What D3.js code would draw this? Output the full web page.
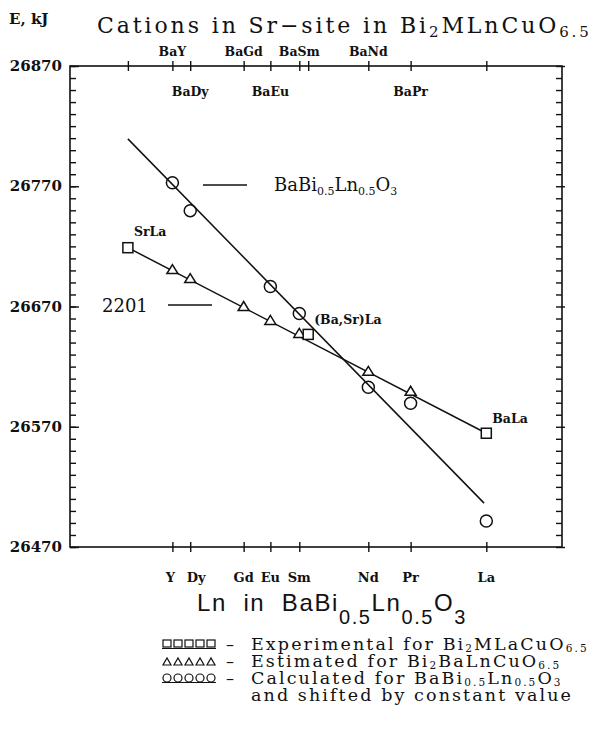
<!DOCTYPE html>
<html>
<head>
<meta charset="utf-8">
<script src="https://cdn.jsdelivr.net/npm/d3@7/dist/d3.min.js"></script>
<style>
   body { margin: 0; background: #fff; }
   svg { display: block; }
   text { fill: #111; }
</style>
</head>
<body>
<div id="chart"></div>
<script>
// Ln cations on the bottom axis (x = ionic radius)
const lnNames = ['Y', 'Dy', 'Gd', 'Eu', 'Sm', 'Nd', 'Pr', 'La'];
const lnRadius = [1.019, 1.027, 1.051, 1.063, 1.076, 1.107, 1.126, 1.160];

// M-site compositions on the top axis
const siteNames = ['SrLa', 'BaY', 'BaDy', 'BaGd', 'BaEu', 'BaSm', '(Ba,Sr)La', 'BaNd', 'BaPr', 'BaLa'];
const siteRadius = [0.999, 1.019, 1.027, 1.051, 1.063, 1.076, 1.080, 1.107, 1.126, 1.160];
const siteLabelsUpper = ['BaY', 'BaGd', 'BaSm', 'BaNd'];
const siteLabelsLower = ['BaDy', 'BaEu', 'BaPr'];

const yTicks = [26470, 26570, 26670, 26770, 26870];

// experimental, Bi2MLaCuO6.5 (squares)
const expSites = ['SrLa', '(Ba,Sr)La', 'BaLa'];
const expE = [26718.9, 26646.8, 26564.6];

// estimated, Bi2BaLnCuO6.5 (triangles)
const estLn = ['Y', 'Dy', 'Gd', 'Eu', 'Sm', 'Nd', 'Pr'];
const estE = [26700.7, 26693.2, 26670.0, 26658.4, 26647.6, 26616.1, 26599.5];

// calculated, BaBi0.5Ln0.5O3 shifted (circles)
const calcLn = ['Y', 'Dy', 'Eu', 'Sm', 'Nd', 'Pr', 'La'];
const calcE = [26772.9, 26749.7, 26686.6, 26664.2, 26602.8, 26589.5, 26491.6];

// straight line drawn through the circles
const fitX = [0.999, 1.159];
const fitE = [26809.4, 26506.5];

const W = 592, H = 738;
const frame = { left: 70, right: 562, top: 66, bottom: 547 };
const serif = "'DejaVu Serif', serif";
const sans = "'Liberation Sans', Arial, sans-serif";

const svg = d3.select('#chart').append('svg')
   .attr('width', W)
   .attr('height', H);

svg.append('rect').attr('width', W).attr('height', H).attr('fill', '#fff');

const x = d3.scaleLinear()
   .domain([0.973, 1.194])
   .range([frame.left, frame.right]);

const y = d3.scaleLinear()
   .domain([26470, 26870])
   .range([frame.bottom, frame.top]);

const lnX = d => x(lnRadius[lnNames.indexOf(d)]);
const siteX = d => x(siteRadius[siteNames.indexOf(d)]);

// text with subscripts: parts = [[string, isSub], ...]
function rich(sel, parts, subSize, shift) {
   parts.forEach(([t, sub], i) => {
      const prevSub = i > 0 && parts[i - 1][1];
      sel.append('tspan')
         .attr('dy', sub && !prevSub ? shift : (!sub && prevSub ? -shift : 0))
         .attr('font-size', sub ? subSize : null)
         .text(t);
   });
   return sel;
}

// ---- axes ----
const minorTicks = d3.range(26470, 26871, 10);

svg.append('rect')
   .attr('x', frame.left).attr('y', frame.top)
   .attr('width', frame.right - frame.left)
   .attr('height', frame.bottom - frame.top)
   .attr('fill', 'none')
   .attr('stroke', '#111')
   .attr('stroke-width', 1.6);

const styleAxis = sel => {
   sel.select('.domain').remove();
   sel.selectAll('text').remove();
   sel.selectAll('line').attr('stroke', '#111').attr('stroke-width', 1.4);
};

// left: inward ticks
svg.append('g').attr('transform', `translate(${frame.left},0)`)
   .call(d3.axisRight(y).tickValues(minorTicks).tickSize(6)).call(styleAxis);
svg.append('g').attr('transform', `translate(${frame.left},0)`)
   .call(d3.axisRight(y).tickValues(yTicks).tickSize(9)).call(styleAxis);
// right: inward ticks, majors crossing
svg.append('g').attr('transform', `translate(${frame.right},0)`)
   .call(d3.axisLeft(y).tickValues(minorTicks).tickSize(6)).call(styleAxis);
svg.append('g').attr('transform', `translate(${frame.right},0)`)
   .call(d3.axisRight(y).tickValues(yTicks).tickSize(3)).call(styleAxis);

// top and bottom: crossing ticks
[d3.axisTop, d3.axisBottom].forEach(ax => {
   svg.append('g').attr('transform', `translate(0,${frame.top})`)
      .call(ax(x).tickValues(siteRadius).tickSize(5)).call(styleAxis);
   svg.append('g').attr('transform', `translate(0,${frame.bottom})`)
      .call(ax(x).tickValues(lnRadius).tickSize(5)).call(styleAxis);
});

// y tick labels
svg.append('g').selectAll('text')
   .data(yTicks)
   .enter()
   .append('text')
      .attr('x', frame.left - 8)
      .attr('y', d => y(d) + 5)
      .attr('text-anchor', 'end')
      .attr('font-family', serif)
      .attr('font-weight', 'bold')
      .attr('font-size', 15)
      .text(d => d);

// bottom Ln labels
svg.append('g').selectAll('text')
   .data(lnNames)
   .enter()
   .append('text')
      .attr('x', d => lnX(d) + (d === 'Y' ? -2 : d === 'Dy' ? 6 : 0))
      .attr('y', frame.bottom + 35)
      .attr('text-anchor', 'middle')
      .attr('font-family', serif)
      .attr('font-weight', 'bold')
      .attr('font-size', 13)
      .text(d => d);

// top site labels
svg.append('g').selectAll('text')
   .data(siteLabelsUpper.map(d => [d, frame.top - 10]).concat(siteLabelsLower.map(d => [d, frame.top + 30])))
   .enter()
   .append('text')
      .attr('x', d => siteX(d[0]))
      .attr('y', d => d[1])
      .attr('text-anchor', 'middle')
      .attr('font-family', serif)
      .attr('font-weight', 'bold')
      .attr('font-size', 12.5)
      .text(d => d[0]);

// ---- lines ----
const line = d3.line().x(d => x(d[0])).y(d => y(d[1]));

svg.append('path')
   .datum(fitX.map((d, i) => [d, fitE[i]]))
   .attr('d', line)
   .attr('fill', 'none').attr('stroke', '#111').attr('stroke-width', 1.5);

const expPts = expSites.map((d, i) => [siteRadius[siteNames.indexOf(d)], expE[i]]);
svg.append('path')
   .datum([expPts[0], expPts[2]])
   .attr('d', line)
   .attr('fill', 'none').attr('stroke', '#111').attr('stroke-width', 1.5);

// ---- markers ----
const marks = svg.append('g').attr('fill', '#fff').attr('stroke', '#111').attr('stroke-width', 1.5);

marks.selectAll('.tri')
   .data(estLn.map((d, i) => [lnRadius[lnNames.indexOf(d)], estE[i]]))
   .enter()
   .append('path')
      .attr('class', 'tri')
      .attr('d', 'M-5.5,4L5.5,4L0,-5Z')
      .attr('transform', d => `translate(${x(d[0])},${y(d[1])})`);

marks.selectAll('.sq')
   .data(expPts)
   .enter()
   .append('rect')
      .attr('class', 'sq')
      .attr('x', d => x(d[0]) - 5)
      .attr('y', d => y(d[1]) - 5)
      .attr('width', 10).attr('height', 10);

marks.selectAll('.circ')
   .data(calcLn.map((d, i) => [lnRadius[lnNames.indexOf(d)], calcE[i]]))
   .enter()
   .append('circle')
      .attr('class', 'circ')
      .attr('cx', d => x(d[0]))
      .attr('cy', d => y(d[1]))
      .attr('r', 6)
      .attr('fill', 'none');

// point labels
const pointLabels = [['SrLa', 6, -12], ['(Ba,Sr)La', 6, -10], ['BaLa', 6, -10]];
svg.append('g').selectAll('text')
   .data(pointLabels)
   .enter()
   .append('text')
      .attr('x', d => siteX(d[0]) + d[1])
      .attr('y', d => y(expE[expSites.indexOf(d[0])]) + d[2])
      .attr('font-family', serif)
      .attr('font-weight', 'bold')
      .attr('font-size', 12.5)
      .text(d => d[0]);

// line labels
svg.append('line').attr('x1', 203).attr('x2', 247).attr('y1', 185).attr('y2', 185)
   .attr('stroke', '#111').attr('stroke-width', 1.3);
rich(svg.append('text').attr('x', 274).attr('y', 191)
      .attr('font-family', serif).attr('font-size', 18),
   [['BaBi', 0], ['0.5', 1], ['Ln', 0], ['0.5', 1], ['O', 0], ['3', 1]], 11, 4);

svg.append('line').attr('x1', 168).attr('x2', 212).attr('y1', 305).attr('y2', 305)
   .attr('stroke', '#111').attr('stroke-width', 1.3);
svg.append('text').attr('x', 102).attr('y', 312)
   .attr('font-family', serif).attr('font-size', 18)
   .text('2201');

// ---- titles ----
svg.append('text').attr('x', 9).attr('y', 24)
   .attr('font-family', serif).attr('font-weight', 'bold').attr('font-size', 15)
   .text('E, kJ');

rich(svg.append('text').attr('x', 97).attr('y', 33)
      .attr('font-family', serif).attr('font-size', 22).attr('letter-spacing', 2.9),
   [['Cations in Sr\u2212site in Bi', 0], ['2', 1], ['MLnCuO', 0], ['6.5', 1]], 15, 4);

rich(svg.append('text').attr('x', 197).attr('y', 611)
      .attr('font-family', sans).attr('font-size', 24).attr('letter-spacing', 1.6)
      .style('white-space', 'pre'),
   [['Ln  in  BaBi', 0], ['0.5', 1], ['Ln', 0], ['0.5', 1], ['O', 0], ['3', 1]], 20, 13);

// ---- legend ----
const legendRows = [
   { kind: 'sq', parts: [['Experimental for Bi', 0], ['2', 1], ['MLaCuO', 0], ['6.5', 1]] },
   { kind: 'tri', parts: [['Estimated for Bi', 0], ['2', 1], ['BaLnCuO', 0], ['6.5', 1]] },
   { kind: 'circ', parts: [['Calculated for BaBi', 0], ['0.5', 1], ['Ln', 0], ['0.5', 1], ['O', 0], ['3', 1]] },
   { kind: null, parts: [['and shifted by constant value', 0]] }
];

const legend = svg.append('g').attr('transform', 'translate(0,650)');
legendRows.forEach((row, i) => {
   const ry = i * 17;
   const sym = legend.append('g').attr('stroke', '#111').attr('fill', 'none').attr('stroke-width', 1.2);
   d3.range(5).forEach(k => {
      const cx = 167 + k * 11;
      if (row.kind === 'sq') sym.append('rect').attr('x', cx - 4).attr('y', ry - 10).attr('width', 8).attr('height', 7);
      if (row.kind === 'tri') sym.append('path').attr('d', `M${cx - 4},${ry - 2}L${cx + 4},${ry - 2}L${cx},${ry - 9}Z`);
      if (row.kind === 'circ') sym.append('circle').attr('cx', cx).attr('cy', ry - 6).attr('r', 4);
   });
   if (row.kind === 'sq' || row.kind === 'circ') {
      sym.append('line').attr('x1', 162).attr('x2', 216).attr('y1', ry - 1.5).attr('y2', ry - 1.5);
   }
   if (row.kind) {
      legend.append('text').attr('x', 226).attr('y', ry)
         .attr('font-family', serif).attr('font-size', 16)
         .text('\u2013');
   }
   rich(legend.append('text').attr('x', 251).attr('y', ry)
         .attr('font-family', serif).attr('font-size', 17.5).attr('letter-spacing', 2.1),
      row.parts, 10.5, 2);
});
</script>
</body>
</html>
